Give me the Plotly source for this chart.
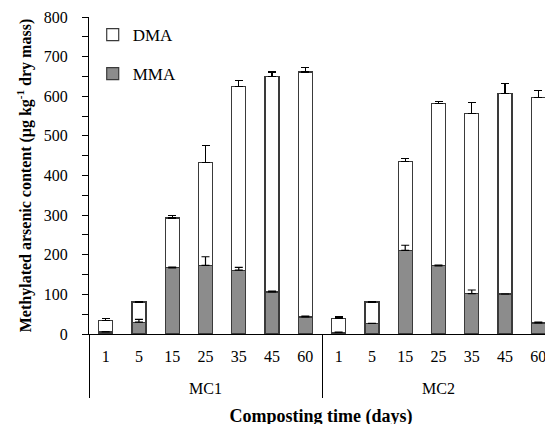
import plotly.graph_objects as go

groups = ["MC1"] * 7 + ["MC2"] * 7
days = ["1", "5", "15", "25", "35", "45", "60"] * 2

total = [34, 81, 293, 432, 624, 649, 661,
         40, 81, 435, 582, 557, 606, 596]
mma = [5, 30, 167, 173, 161, 106, 43,
       4, 27, 211, 172, 102, 101, 28]
mma_err = [1, 7, 2, 22, 7, 2, 2,
           1, 0, 13, 2, 9, 0, 2]
total_err = [5, 1, 7, 44, 16, 12, 11,
             3, 0, 7, 4, 27, 27, 19]
dma = [t - m for t, m in zip(total, mma)]

FONT = "Liberation Serif, Times New Roman, serif"
# group labels drawn one line lower, as in the reference
x = [["<br>" + g for g in groups], days]
err_style = dict(color="black", thickness=1.2, width=4)

fig = go.Figure()
fig.add_trace(go.Bar(
    x=x, y=mma, name="MMA",
    marker=dict(color="#8c8c8c", line=dict(color="#3a3a3a", width=1.2)),
    width=0.42, legendgroup="mma", legendrank=2,
))
fig.add_trace(go.Bar(
    x=x, y=dma, name="DMA",
    marker=dict(color="white", line=dict(color="#3a3a3a", width=1.2)),
    error_y=dict(type="data", array=total_err, symmetric=False, arrayminus=[0] * 14,
                 **err_style),
    width=0.42, legendgroup="dma", legendrank=1,
))
# MMA error bars drawn above the stacked DMA segments (on the overlaid label axis)
fig.add_trace(go.Scatter(
    x=x, y=mma, mode="markers", marker=dict(size=1, opacity=0),
    error_y=dict(type="data", array=mma_err, symmetric=False, arrayminus=[0] * 14,
                 **err_style),
    showlegend=False, hoverinfo="skip", yaxis="y2",
))

# page body has an 8px default margin: figure is sized/offset to compensate
fig.update_layout(
    width=545, height=416,
    barmode="stack",
    plot_bgcolor="white", paper_bgcolor="white",
    margin=dict(l=81, r=0, t=9, b=90),
    font=dict(family=FONT, size=16, color="black"),
    showlegend=True,
    legend=dict(x=0.008, y=1.0, xanchor="left", yanchor="top",
                traceorder="grouped", tracegroupgap=14,
                font=dict(size=17, family=FONT), bgcolor="rgba(0,0,0,0)"),
    xaxis=dict(
        type="multicategory", automargin=False,
        range=[-0.5, 13.44],
        showline=True, linecolor="black", linewidth=1,
        ticks="", showdividers=True, dividercolor="black", dividerwidth=1,
        tickfont=dict(size=16, family=FONT),
        ticklabelstandoff=8,
        title=dict(text="<b>Composting time (days)</b>", font=dict(size=18, family=FONT),
                   standoff=13),
        showgrid=False,
    ),
    # axis line and tick marks
    yaxis=dict(
        range=[0, 800], dtick=100, automargin=False,
        showline=True, linecolor="black", linewidth=1,
        ticks="outside", ticklen=6, tickcolor="black",
        minor=dict(dtick=50, ticks="outside", ticklen=6, tickcolor="black"),
        showgrid=False, zeroline=False, showticklabels=False,
    ),
    # tick labels (set further from the axis) and title
    yaxis2=dict(
        range=[0, 800], dtick=100, automargin=False,
        overlaying="y", side="left",
        showline=False, ticks="outside", ticklen=17, tickcolor="rgba(0,0,0,0)",
        showgrid=False, zeroline=False,
        tickfont=dict(size=16, family=FONT),
        title=dict(text="<b>Methylated arsenic content (μg kg<sup>-1</sup> dry mass)</b>",
                   font=dict(size=16, family=FONT), standoff=8),
    ),
)

fig.write_html("out.html")
